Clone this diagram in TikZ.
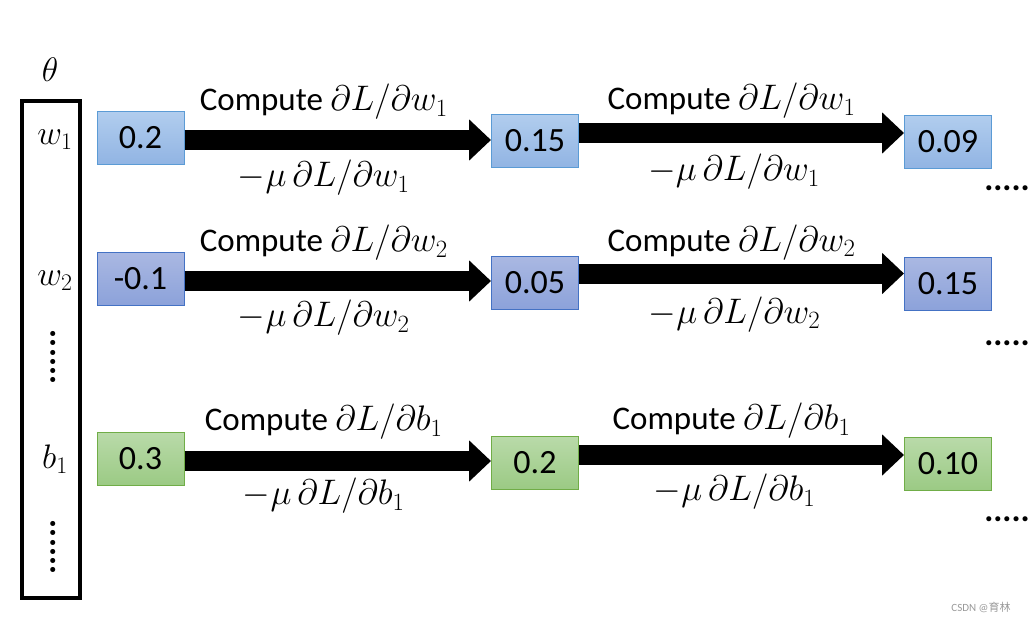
\RequirePackage{fix-cm}
\documentclass[tikz,border=0pt]{standalone}
\usepackage{fontspec}
\setmainfont{Carlito}
\newfontfamily\cjkfont{Noto Sans CJK SC}
\usetikzlibrary{arrows.meta}
\definecolor{bTop}{HTML}{B1CDEE}
\definecolor{bBot}{HTML}{91B4E3}
\definecolor{bLine}{HTML}{5B9BD5}
\definecolor{pTop}{HTML}{AAB8E2}
\definecolor{pBot}{HTML}{8CA2DA}
\definecolor{pLine}{HTML}{4472C4}
\definecolor{gTop}{HTML}{B9DAA9}
\definecolor{gBot}{HTML}{9BCA84}
\definecolor{gLine}{HTML}{70AD47}
\newcommand\lmath[1]{{\fontsize{35.5}{38}\selectfont$#1$}}
\tikzset{
  valbox/.style={minimum width=87pt, minimum height=53pt, inner sep=0pt, line width=1pt,
    font=\fontsize{34}{38}\selectfont},
  bluebox/.style={valbox, draw=bLine, top color=bTop, bottom color=bBot},
  purplebox/.style={valbox, draw=pLine, top color=pTop, bottom color=pBot},
  greenbox/.style={valbox, draw=gLine, top color=gTop, bottom color=gBot},
  bigarrow/.style={line width=20pt, -{Triangle[length=22pt,width=40pt]}},
  lbl/.style={font=\fontsize{33}{36}\selectfont, inner sep=0pt},
  sym/.style={font=\fontsize{34}{38}\selectfont, inner sep=0pt},
  dots/.style={font=\fontsize{34}{36}\selectfont\bfseries, inner sep=0pt}
}
\begin{document}
\begin{tikzpicture}[x=1pt,y=-1pt]
\useasboundingbox (0,0) rectangle (1030,621);
% parameter column
\node[draw, line width=4pt, minimum width=58pt, minimum height=497pt, inner sep=0pt] (col) at (51,349.5) {};
\node[sym] (theta) at (50,70) {$\theta$};
\node[sym] (lw1) at (55,140) {$w_1$};
\node[sym] (lw2) at (55,281) {$w_2$};
\node[sym] (lb1) at (55,459) {$b_1$};
\node[dots, rotate=90] (vd1) at (53,357) {......};
\node[dots, rotate=90] (vd2) at (53,547) {......};
% boxes
\node[bluebox] (a1) at (140.5,138) {0.2};
\node[bluebox] (a2) at (535,141) {0.15};
\node[bluebox] (a3) at (948,142) {0.09};
\node[purplebox] (b1) at (140.5,278.5) {-0.1};
\node[purplebox] (b2) at (535,282.5) {0.05};
\node[purplebox] (b3) at (948,283.5) {0.15};
\node[greenbox] (c1) at (140.5,459) {0.3};
\node[greenbox] (c2) at (535,463) {0.2};
\node[greenbox] (c3) at (948,464) {0.10};
% arrows row 1
\draw[bigarrow] ([yshift=-2pt]a1.east) -- ([yshift=-2pt]a1.east -| a2.west)
  node[lbl, midway, xshift=-14pt, yshift=38pt] (t11) {Compute \lmath{\partial L/\partial w_1}}
  node[lbl, midway, xshift=-14pt, yshift=-38pt] (u11) {\lmath{-\mu\,\partial L/\partial w_1}};
\draw[bigarrow] ([yshift=8pt]a2.east) -- ([yshift=8pt]a2.east -| a3.west)
  node[lbl, midway, xshift=-10pt, yshift=32pt] (t12) {Compute \lmath{\partial L/\partial w_1}};
\node[lbl] (u12) at (734,172) {\lmath{-\mu\,\partial L/\partial w_1}};
% arrows row 2
\draw[bigarrow] ([yshift=-2.5pt]b1.east) -- ([yshift=-2.5pt]b1.east -| b2.west)
  node[lbl, midway, xshift=-14pt, yshift=38pt] (t21) {Compute \lmath{\partial L/\partial w_2}}
  node[lbl, midway, xshift=-14pt, yshift=-37pt] (u21) {\lmath{-\mu\,\partial L/\partial w_2}};
\draw[bigarrow] ([yshift=9pt]b2.east) -- ([yshift=9pt]b2.east -| b3.west)
  node[lbl, midway, xshift=-10pt, yshift=31pt] (t22) {Compute \lmath{\partial L/\partial w_2}}
  node[lbl, midway, xshift=-7pt, yshift=-41pt] (u22) {\lmath{-\mu\,\partial L/\partial w_2}};
% arrows row 3
\draw[bigarrow] ([yshift=-2pt]c1.east) -- ([yshift=-2pt]c1.east -| c2.west)
  node[lbl, midway, xshift=-14pt, yshift=39pt] (t31) {Compute \lmath{\partial L/\partial b_1}}
  node[lbl, midway, xshift=-14pt, yshift=-35pt] (u31) {\lmath{-\mu\,\partial L/\partial b_1}};
\draw[bigarrow] ([yshift=8pt]c2.east) -- ([yshift=8pt]c2.east -| c3.west)
  node[lbl, midway, xshift=-10pt, yshift=34pt] (t32) {Compute \lmath{\partial L/\partial b_1}}
  node[lbl, midway, xshift=-7pt, yshift=-37pt] (u32) {\lmath{-\mu\,\partial L/\partial b_1}};
% continuation dots
\node[dots] (h1) at (1007,188) {.....};
\node[dots] (h2) at (1007,343) {.....};
\node[dots] (h3) at (1007,519) {.....};
% watermark
\node[text=black!40, inner sep=0pt, font=\fontsize{11}{13}\selectfont] (wm) at (981,607) {CSDN @{\cjkfont 育林}};
\end{tikzpicture}
\end{document}
